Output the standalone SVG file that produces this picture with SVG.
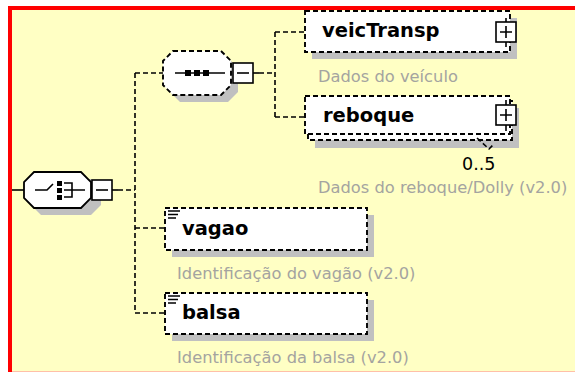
<svg xmlns="http://www.w3.org/2000/svg" width="575" height="375" viewBox="0 0 575 375">
<style>
.conn{fill:none;stroke:#000;stroke-width:1.6;stroke-dasharray:5 3}
.solid{fill:none;stroke:#000;stroke-width:1.6}
.shadow{fill:#c0c0c0;stroke:none}
.box{fill:#fff;stroke:#000;stroke-width:1.9;stroke-dasharray:5 3}
.octo{fill:#fff;stroke:#000;stroke-width:1.8}
.btn{fill:#fff;stroke:#000;stroke-width:1.6}
.name{font-family:"DejaVu Sans",Verdana,sans-serif;font-weight:bold;font-size:19.5px;fill:#000}
.desc{font-family:"DejaVu Sans",Verdana,sans-serif;font-size:16.3px;fill:#a4a4a0}
.occ{font-family:"DejaVu Sans",Verdana,sans-serif;font-size:17.5px;fill:#000}
</style>
<rect x="0" y="0" width="575" height="375" fill="#fff"/>
<rect x="12" y="10" width="563" height="361" fill="#ffffc4"/>
<rect x="8" y="6" width="567" height="4" fill="#f00"/>
<rect x="8" y="6" width="4" height="366" fill="#f00"/>
<line x1="12" y1="371.5" x2="575" y2="371.5" stroke="#ffc0a8" stroke-width="1"/>

<g id="connectors">
  <line class="solid" x1="12" y1="190" x2="24" y2="190"/>
  <line class="solid" x1="112" y1="190" x2="118" y2="190"/>
  <path class="conn" d="M118,190 H135"/>
  <path class="conn" d="M135,73 V313"/>
  <path class="conn" d="M135,73 H163"/>
  <path class="conn" d="M135,228 H165"/>
  <path class="conn" d="M135,313 H165"/>
  <line class="solid" x1="253" y1="73" x2="259" y2="73"/>
  <path class="conn" d="M259,73 H275"/>
  <path class="conn" d="M275,32 V117"/>
  <path class="conn" d="M275,32 H305"/>
  <path class="conn" d="M275,117 H305"/>
</g>

<g id="root-choice">
  <path class="shadow" d="M41,179 H91 L101,189 V205 L91,215 H41 L31,205 V189 Z"/>
  <path class="octo" d="M34,172 H81 L91,182 V198 L81,208 H34 L24,198 V182 Z"/>
  <path class="solid" d="M35,190 H47 L53,184"/>
  <rect x="57" y="181" width="5" height="5" fill="#000"/>
  <rect x="57" y="188" width="5" height="5" fill="#000"/>
  <rect x="57" y="195" width="5" height="5" fill="#000"/>
  <path class="solid" d="M64,183 H72 V197 H64 M64,190 H85"/>
  <rect class="btn" x="92" y="180" width="20" height="20"/>
  <line class="solid" x1="96" y1="190" x2="108" y2="190"/>
</g>

<g id="sequence">
  <path class="shadow" d="M180,58 H228 L238,68 V92 L228,102 H180 L170,92 V68 Z"/>
  <path class="box" d="M173,51 H221 L231,61 V85 L221,95 H173 L163,85 V61 Z"/>
  <line class="solid" x1="175" y1="73" x2="225" y2="73"/>
  <rect x="185" y="70" width="6" height="6" fill="#000"/>
  <rect x="194" y="70" width="6" height="6" fill="#000"/>
  <rect x="203" y="70" width="6" height="6" fill="#000"/>
  <rect class="btn" x="233" y="63" width="20" height="20"/>
  <line class="solid" x1="237" y1="73" x2="249" y2="73"/>
</g>

<g id="veicTransp">
  <rect class="shadow" x="312" y="18" width="205" height="41"/>
  <rect class="box" x="305" y="11" width="205" height="41"/>
  <text class="name" x="322" y="37">veicTransp</text>
  <line class="solid" x1="506" y1="18" x2="506" y2="47"/>
  <rect class="btn" x="496" y="22" width="20" height="20"/>
  <path class="solid" d="M500,32 H512 M506,26 V38"/>
  <text class="desc" x="318" y="82">Dados do veículo</text>
</g>

<g id="reboque">
  <rect class="shadow" x="315" y="108" width="204" height="40"/>
  <rect class="box" x="308" y="101" width="204" height="39"/>
  <rect class="box" x="305" y="96" width="205" height="38"/>
  <path class="conn" d="M477,138 L489,149 L493,145"/>
  <text class="name" x="323" y="122">reboque</text>
  <line class="solid" x1="506" y1="100" x2="506" y2="131"/>
  <rect class="btn" x="496" y="105" width="20" height="20"/>
  <path class="solid" d="M500,115 H512 M506,109 V121"/>
  <text class="occ" x="462" y="170">0..5</text>
  <text class="desc" x="318" y="193">Dados do reboque/Dolly (v2.0)</text>
</g>

<g id="vagao">
  <rect class="shadow" x="172" y="215" width="202" height="42"/>
  <rect class="box" x="165" y="208" width="202" height="42"/>
  <path class="solid" stroke-width="1.3" d="M168,211 H180 M168,214.5 H178 M168,218 H176"/>
  <text class="name" x="182" y="235">vagao</text>
  <text class="desc" x="177" y="279">Identificação do vagão (v2.0)</text>
</g>

<g id="balsa">
  <rect class="shadow" x="172" y="300" width="202" height="41"/>
  <rect class="box" x="165" y="293" width="202" height="41"/>
  <path class="solid" stroke-width="1.3" d="M168,296 H180 M168,299.5 H178 M168,303 H176"/>
  <text class="name" x="182" y="319">balsa</text>
  <text class="desc" x="177" y="363">Identificação da balsa (v2.0)</text>
</g>
</svg>
